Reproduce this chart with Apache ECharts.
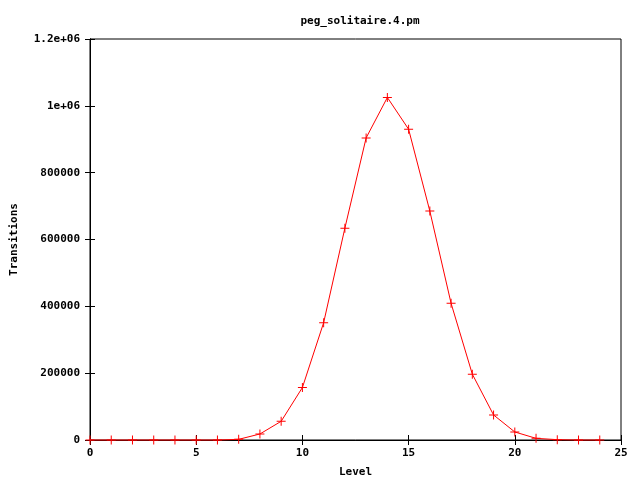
<!DOCTYPE html>
<html>
<head>
<meta charset="utf-8">
<script src="https://cdn.jsdelivr.net/npm/echarts@6/dist/echarts.min.js"></script>
<style>html,body{margin:0;padding:0;background:#fff}#c{width:640px;height:480px}</style>
</head>
<body>
<div id="c"></div>
<script>
var levels = [0,1,2,3,4,5,6,7,8,9,10,11,12,13,14,15,16,17,18,19,20,21,22,23,24];
var transitions = [0,0,0,0,0,0,0,2000,18000,56000,157000,351000,634000,904000,1025000,930000,685000,409000,197000,75000,24000,5000,1000,0,0];
var xTicks = [0,5,10,15,20,25];
var yTicks = [0,200000,400000,600000,800000,1000000,1200000];
var titleText = 'peg_solitaire.4.pm';
var xName = 'Level';
var yName = 'Transitions';

var FONT = 'DejaVu Sans Mono';
var chart = echarts.init(document.getElementById('c'), null, {renderer:'canvas'});
function yfmt(v){ if (v===1000000) return '1e+06'; if (v===1200000) return '1.2e+06'; return String(v); }
var lbl = {fontFamily:FONT, fontSize:11, fontWeight:'bold', color:'#000'};
chart.setOption({
  animation:false,
  backgroundColor:'#fff',
  title:{text:titleText, left:355, top:11, textAlign:'center', textStyle:Object.assign({}, lbl)},
  grid:{left:90, right:19, top:39, bottom:40, containLabel:false, outerBoundsMode:'none', show:true, borderColor:'#000', borderWidth:1, backgroundColor:'transparent'},
  xAxis:[{type:'value', min:xTicks[0], max:xTicks[xTicks.length-1], interval:5, position:'bottom',
    name:xName, nameLocation:'middle', nameGap:27, nameTextStyle:Object.assign({}, lbl),
    axisLine:{show:true, lineStyle:{color:'#000', width:1}},
    axisTick:{show:true, inside:true, length:5, lineStyle:{color:'#000'}},
    axisLabel:Object.assign({margin:8}, lbl), splitLine:{show:false}},
   {type:'value', min:xTicks[0], max:xTicks[xTicks.length-1], interval:5, position:'top',
    axisLine:{show:true, lineStyle:{color:'#000'}},
    axisTick:{show:true, inside:true, length:5, lineStyle:{color:'#000'}},
    axisLabel:{show:false}, splitLine:{show:false}}],
  yAxis:[{type:'value', min:yTicks[0], max:yTicks[yTicks.length-1], interval:200000, position:'left',
    name:yName, nameLocation:'middle', nameGap:70, nameRotate:90, nameTextStyle:Object.assign({}, lbl),
    axisLine:{show:true, lineStyle:{color:'#000'}},
    axisTick:{show:true, inside:true, length:5, lineStyle:{color:'#000'}},
    axisLabel:Object.assign({margin:10, formatter:yfmt}, lbl), splitLine:{show:false}},
   {type:'value', min:yTicks[0], max:yTicks[yTicks.length-1], interval:200000, position:'right',
    axisLine:{show:true, lineStyle:{color:'#000'}},
    axisTick:{show:true, inside:true, length:5, lineStyle:{color:'#000'}},
    axisLabel:{show:false}, splitLine:{show:false}}],
  series:[{type:'line', xAxisIndex:0, yAxisIndex:0,
    data:levels.map(function(l,i){return [l, transitions[i]];}),
    lineStyle:{color:'#ff0000', width:1},
    itemStyle:{color:'#ff0000'},
    symbol:'path://M4,0h1v9h-1z M0,4h9v1h-9z', symbolSize:9, showSymbol:true,
    clip:false}]
});
</script>
</body>
</html>
